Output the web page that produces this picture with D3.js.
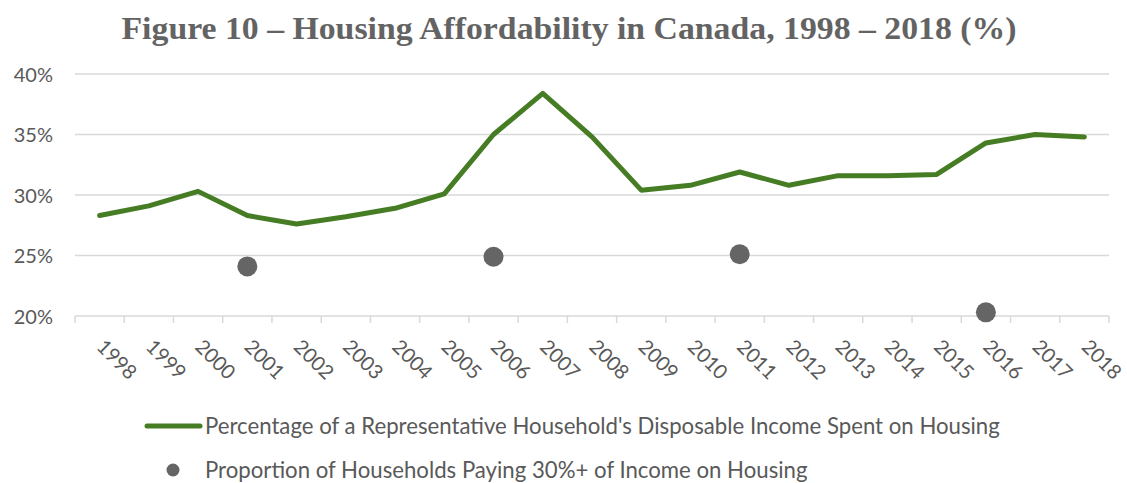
<!DOCTYPE html>
<html>
<head>
<meta charset="utf-8">
<script src="https://cdn.jsdelivr.net/npm/d3@7"></script>
<style>
  html, body { margin: 0; padding: 0; background: #ffffff; }
  svg { display: block; }
</style>
</head>
<body>
<svg id="chart" width="1127" height="483"></svg>
<script>
// ---- Data ----
const years = ["1998","1999","2000","2001","2002","2003","2004","2005","2006","2007","2008",
               "2009","2010","2011","2012","2013","2014","2015","2016","2017","2018"];
const affordability = [28.3, 29.1, 30.3, 28.3, 27.6, 28.2, 28.9, 30.1, 35.0, 38.4, 34.8,
                       30.4, 30.8, 31.9, 30.8, 31.6, 31.6, 31.7, 34.3, 35.0, 34.8];
const proportionYears = ["2001", "2006", "2011", "2016"];
const proportion = [24.1, 24.9, 25.1, 20.3];
const yTicks = [20, 25, 30, 35, 40];
const titleText = "Figure 10 \u2013 Housing Affordability in Canada, 1998 \u2013 2018 (%)";
const seriesNames = [
  "Percentage of a Representative Household's Disposable Income Spent on Housing",
  "Proportion of Households Paying 30%+ of Income on Housing"
];

// ---- Styles ----
const GREEN = "#467d24";
const DOT = "#656565";
const TEXT = "#595959";
const GRID = "#d9d9d9";
const SANS = "Lato, 'Open Sans', sans-serif";

const svg = d3.select("#chart");

const x = d3.scaleBand().domain(years).range([75, 1109]).paddingInner(0).paddingOuter(0);
const y = d3.scaleLinear().domain([20, 40]).range([316, 74]);

// Title
svg.append("text")
  .attr("x", 569).attr("y", 39)
  .attr("text-anchor", "middle")
  .attr("font-family", "'Liberation Serif', 'DejaVu Serif', serif")
  .attr("font-weight", "bold")
  .attr("font-size", 31)
  .attr("fill", "#636363")
  .attr("textLength", 895)
  .attr("lengthAdjust", "spacingAndGlyphs")
  .text(titleText);

// Gridlines
svg.append("g").selectAll("line")
  .data(yTicks.filter(d => d !== 20))
  .join("line")
  .attr("x1", 75).attr("x2", 1109)
  .attr("y1", d => y(d)).attr("y2", d => y(d))
  .attr("stroke", GRID).attr("stroke-width", 1.5);

// Y axis labels
const yAxis = d3.axisLeft(y).tickValues(yTicks).tickFormat(d => d + "%").tickSize(0).tickPadding(0);
const gy = svg.append("g").attr("transform", "translate(53,0)").call(yAxis);
gy.select(".domain").remove();
gy.selectAll("text")
  .attr("font-family", SANS).attr("font-size", 20).attr("fill", TEXT)
  .attr("dy", "0.35em");

// X axis: baseline + ticks at category boundaries
const gx = svg.append("g");
gx.append("line")
  .attr("x1", 75).attr("x2", 1109).attr("y1", y(20)).attr("y2", y(20))
  .attr("stroke", GRID).attr("stroke-width", 1.5);
const boundaries = years.map(d => x(d)).concat([x(years[years.length - 1]) + x.bandwidth()]);
gx.selectAll("line.tick").data(boundaries).join("line")
  .attr("class", "tick")
  .attr("x1", d => d).attr("x2", d => d)
  .attr("y1", y(20)).attr("y2", y(20) + 7)
  .attr("stroke", GRID).attr("stroke-width", 1.5);
gx.selectAll("text").data(years).join("text")
  .attr("transform", d => `translate(${x(d) + x.bandwidth() / 2 - 4},${y(20) + 32}) rotate(45)`)
  .attr("text-anchor", "start")
  .attr("font-family", SANS).attr("font-size", 20).attr("fill", TEXT)
  .text(d => d);

// Line series
const line = d3.line()
  .x((d, i) => x(years[i]) + x.bandwidth() / 2)
  .y(d => y(d));
svg.append("path")
  .datum(affordability)
  .attr("d", line)
  .attr("fill", "none")
  .attr("stroke", GREEN)
  .attr("stroke-width", 5)
  .attr("stroke-linejoin", "round")
  .attr("stroke-linecap", "round");

// Dot series
svg.append("g").selectAll("circle")
  .data(proportion)
  .join("circle")
  .attr("cx", (d, i) => x(proportionYears[i]) + x.bandwidth() / 2)
  .attr("cy", d => y(d))
  .attr("r", 10)
  .attr("fill", DOT);

// Legend
const lg = svg.append("g");
lg.append("line")
  .attr("x1", 147).attr("x2", 200).attr("y1", 426).attr("y2", 426)
  .attr("stroke", GREEN).attr("stroke-width", 5).attr("stroke-linecap", "round");
const t1 = lg.append("text")
  .attr("x", 205).attr("y", 426).attr("dy", "0.35em")
  .attr("font-family", SANS).attr("font-size", 20).attr("fill", TEXT)
  .text(seriesNames[0]);
lg.append("circle").attr("cx", 173).attr("cy", 470).attr("r", 6.5).attr("fill", DOT);
const t2 = lg.append("text")
  .attr("x", 205).attr("y", 470).attr("dy", "0.35em")
  .attr("font-family", SANS).attr("font-size", 20).attr("fill", TEXT)
  .text(seriesNames[1]);
// fit legend font so the first entry spans the same width as in the reference
const w = t1.node().getComputedTextLength();
if (w > 0) {
  const fs = 20 * 795 / w;
  t1.attr("font-size", fs);
  t2.attr("font-size", fs);
}
</script>
</body>
</html>
